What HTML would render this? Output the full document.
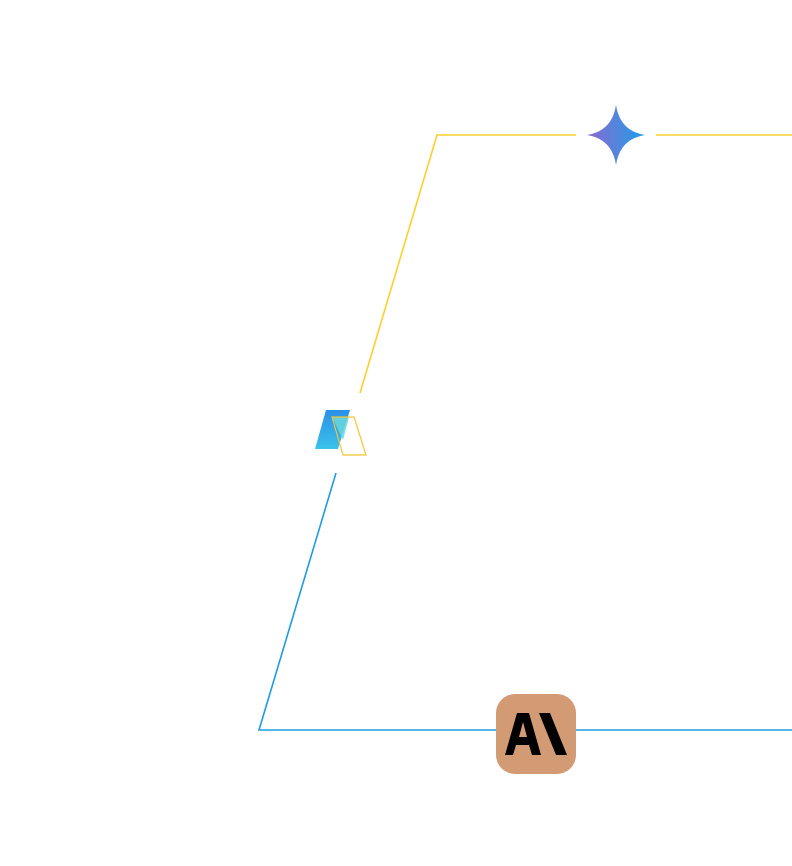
<!DOCTYPE html>
<html><head><style>html,body{margin:0;padding:0;background:#fff;width:792px;height:866px;overflow:hidden}</style></head>
<body>
<svg width="792" height="866" viewBox="0 0 792 866" xmlns="http://www.w3.org/2000/svg">
<defs>
<linearGradient id="gs" x1="0" y1="0" x2="1" y2="0"><stop offset="0" stop-color="#8a6ad0"/><stop offset="1" stop-color="#1f9ee8"/></linearGradient>
<linearGradient id="gb" x1="0" y1="0" x2="0" y2="1"><stop offset="0" stop-color="#2a8fe8"/><stop offset="1" stop-color="#3bc2ea"/></linearGradient>
</defs>
<polyline points="360,393 437,135 576,135" fill="none" stroke="#fccf2e" stroke-width="1.6"/>
<line x1="656" y1="135" x2="792" y2="135" stroke="#fccf2e" stroke-width="1.6"/>
<polyline points="336,473 259,730 496,730" fill="none" stroke="#1e9be6" stroke-width="1.6"/>
<line x1="576" y1="730" x2="792" y2="730" stroke="#1e9be6" stroke-width="1.6"/>
<path d="M587,135 Q612,131 616,105 Q620,131 645,135 Q620,139 616,165 Q612,139 587,135Z" fill="url(#gs)"/>
<polygon points="326,410 350,410 338,449 315,449" fill="url(#gb)"/>
<polygon points="332,417 349,417 343,440" fill="#6ad8dc" opacity="0.85"/>
<polygon points="332,417 354,417 366,455 343,455" fill="none" stroke="#f3c432" stroke-width="1.2"/>
<rect x="496" y="694" width="80" height="80" rx="19" fill="#d29b74"/>
<path d="M505,755 L517,713 L529,713 L541,755 L532,755 L529,745 L516,745 L513,755Z M519,737 L527,737 L523,722Z" fill="#000" fill-rule="evenodd"/>
<polygon points="539,713 550,713 567,755 556,755" fill="#000"/>
</svg>
</body></html>
